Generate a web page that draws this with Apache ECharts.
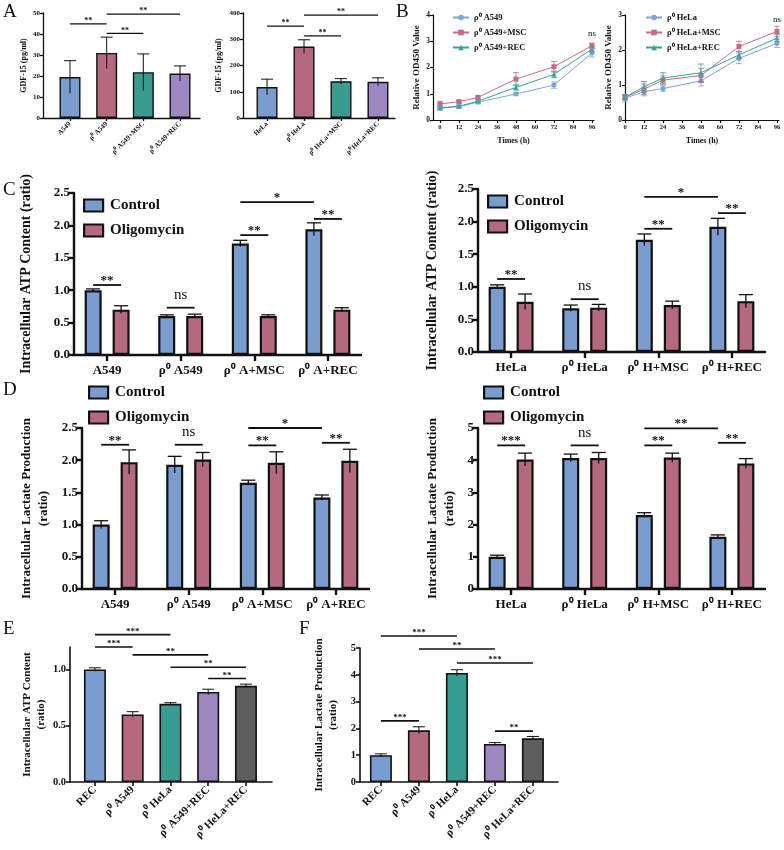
<!DOCTYPE html>
<html>
<head>
<meta charset="utf-8">
<script src="https://cdn.jsdelivr.net/npm/echarts@6/dist/echarts.min.js"></script>
<style>
  html, body { margin: 0; background: #fff; }
  #chart { width: 784px; height: 850px; }
</style>
</head>
<body>
<div id="chart"></div>
<script>
const SERIF = '"Liberation Serif", "Times New Roman", serif'
const INK = '#111'
const BLUE = '#7b9ccf'
const PINK = '#b5697e'
const TEAL = '#3a9b93'
const PURPLE = '#9c87c0'
const GREY = '#5e5e5e'
const LBLUE = '#7fa3d9'
const LPINK = '#c66b85'
const LTEAL = '#35a399'

// ---- A: GDF-15 ----
const aLeftNames = ['A549', 'ρ⁰ A549', 'ρ⁰ A549+MSC', 'ρ⁰ A549+REC']
const aLeftMean = [19.5, 31, 21.8, 21.2]
const aLeftSd = [7.8, 7.5, 8.7, 3.6]
const aLeftSig = [[0, 1, 44.8, '**'], [1, 2, 40.3, '**'], [1, 3, 49.5, '**']]

const aRightNames = ['HeLa', 'ρ⁰ HeLa', 'ρ⁰ HeLa+MSC', 'ρ⁰ HeLa+REC']
const aRightMean = [118, 272, 140, 138]
const aRightSd = [30, 26, 10, 15]
const aRightSig = [[0, 1, 350, '**'], [1, 2, 313, '**'], [1, 3, 392, '**']]

const fourColors = [BLUE, PINK, TEAL, PURPLE]

// ---- B: OD450 growth ----
const times = [0, 12, 24, 48, 72, 96]
const timeTicks = [0, 12, 24, 36, 48, 60, 72, 84, 96]
const bLeftNames = ['ρ⁰ A549', 'ρ⁰ A549+MSC', 'ρ⁰ A549+REC']
const bA549 = [0.45, 0.51, 0.68, 0.99, 1.33, 2.55]
const bA549Sd = [0.08, 0.05, 0.05, 0.05, 0.12, 0.15]
const bA549Msc = [0.61, 0.70, 0.86, 1.56, 2.03, 2.83]
const bA549MscSd = [0.1, 0.05, 0.05, 0.25, 0.2, 0.1]
const bA549Rec = [0.47, 0.52, 0.72, 1.24, 1.74, 2.70]
const bA549RecSd = [0.05, 0.05, 0.05, 0.1, 0.12, 0.1]

const bRightNames = ['ρ⁰ HeLa', 'ρ⁰ HeLa+MSC', 'ρ⁰ HeLa+REC']
const bHeLa = [0.62, 0.81, 0.90, 1.12, 1.76, 2.19]
const bHeLaSd = [0.1, 0.12, 0.08, 0.15, 0.15, 0.12]
const bHeLaMsc = [0.65, 0.88, 1.14, 1.27, 2.10, 2.53]
const bHeLaMscSd = [0.08, 0.15, 0.12, 0.2, 0.15, 0.15]
const bHeLaRec = [0.65, 0.95, 1.20, 1.35, 1.86, 2.34]
const bHeLaRecSd = [0.06, 0.15, 0.15, 0.25, 0.1, 0.1]

// ---- C / D: Control vs Oligomycin ----
const cdLegend = ['Control', 'Oligomycin']
const aGroups = ['A549', 'ρ⁰ A549', 'ρ⁰ A+MSC', 'ρ⁰ A+REC']
const hGroups = ['HeLa', 'ρ⁰ HeLa', 'ρ⁰ H+MSC', 'ρ⁰ H+REC']

const cLeftCtrl = [1.0, 0.6, 1.72, 1.94]
const cLeftCtrlSd = [0.02, 0.02, 0.05, 0.1]
const cLeftOligo = [0.7, 0.6, 0.6, 0.7]
const cLeftOligoSd = [0.06, 0.03, 0.02, 0.03]
const cLeftSig = [[[0, 0], [0, 1], 1.08, '**'], [[1, 0], [1, 1], 0.73, 'ns'], [[2, 0], [2, 1], 1.85, '**'], [[3, 0], [3, 1], 2.1, '**'], [[2, 0], [3, 0], 2.36, '*']]

const cRightCtrl = [1.0, 0.67, 1.72, 1.92]
const cRightCtrlSd = [0.03, 0.05, 0.09, 0.13]
const cRightOligo = [0.77, 0.68, 0.72, 0.78]
const cRightOligoSd = [0.12, 0.05, 0.06, 0.1]
const cRightSig = [[[0, 0], [0, 1], 1.12, '**'], [[1, 0], [1, 1], 0.81, 'ns'], [[2, 0], [2, 1], 1.89, '**'], [[3, 0], [3, 1], 2.13, '**'], [[2, 0], [3, 0], 2.38, '*']]

const dLeftCtrl = [1.0, 1.93, 1.65, 1.42]
const dLeftCtrlSd = [0.06, 0.13, 0.04, 0.04]
const dLeftOligo = [1.97, 2.01, 1.96, 1.99]
const dLeftOligoSd = [0.19, 0.11, 0.17, 0.18]
const dLeftSig = [[[0, 0], [0, 1], 2.24, '**'], [[1, 0], [1, 1], 2.24, 'ns'], [[2, 0], [2, 1], 2.23, '**'], [[3, 0], [3, 1], 2.27, '**'], [[2, 0], [3, 0], 2.5, '*']]

const dRightCtrl = [1.0, 4.07, 2.3, 1.62]
const dRightCtrlSd = [0.05, 0.12, 0.07, 0.06]
const dRightOligo = [4.02, 4.07, 4.08, 3.9]
const dRightOligoSd = [0.2, 0.17, 0.14, 0.15]
const dRightSig = [[[0, 0], [0, 1], 4.46, '***'], [[1, 0], [1, 1], 4.46, 'ns'], [[2, 0], [2, 1], 4.46, '**'], [[3, 0], [3, 1], 4.54, '**'], [[2, 0], [3, 0], 4.99, '**']]

// ---- E / F ----
const efNames = ['REC', 'ρ⁰ A549', 'ρ⁰ HeLa', 'ρ⁰ A549+REC', 'ρ⁰ HeLa+REC']
const efColors = [BLUE, PINK, TEAL, PURPLE, GREY]
const eMean = [1.0, 0.6, 0.695, 0.8, 0.855]
const eSd = [0.015, 0.025, 0.01, 0.025, 0.015]
const eSig = [[0, 2, 1.31, '***'], [0, 1, 1.2, '***'], [1, 3, 1.13, '**'], [2, 4, 1.02, '**'], [3, 4, 0.92, '**']]
const fMean = [1.0, 1.93, 4.07, 1.42, 1.63]
const fSd = [0.05, 0.13, 0.12, 0.05, 0.07]
const fSig = [[0, 2, 5.45, '***'], [1, 3, 4.96, '**'], [2, 4, 4.44, '***'], [0, 1, 2.28, '***'], [3, 4, 1.9, '**']]

const OFF = 0.19  // half distance between paired bars, in group units

const option = {
  animation: false,
  backgroundColor: '#fff',
  grid: [], xAxis: [], yAxis: [], series: [], legend: [], graphic: []
}

const font = (size, weight) => ({ fontFamily: SERIF, fontWeight: weight || 'bold', fontSize: size, color: INK })

// Add a grid with its own x and y axes, returns grid index
function addGrid(box, x, y) {
  const gi = option.grid.length
  option.grid.push(box)
  option.xAxis.push(Object.assign({ gridIndex: gi }, x))
  option.yAxis.push(Object.assign({ gridIndex: gi }, y))
  return gi
}

function groupAxis(names, o) {
  const idx = names.map((_, i) => i)
  return {
    type: 'value', min: o.min, max: o.max,
    splitLine: { show: false },
    axisLine: { onZero: false, lineStyle: { color: INK, width: o.lw } },
    axisTick: { show: true, customValues: idx, length: o.tick, lineStyle: { color: INK, width: o.lw } },
    axisLabel: Object.assign({ customValues: idx, formatter: v => names[Math.round(v)] || '', rotate: o.rotate || 0, margin: o.margin }, font(o.fs))
  }
}

function valueAxis(o) {
  return {
    type: 'value', min: o.min, max: o.max, interval: o.interval,
    name: o.name, nameLocation: 'middle', nameGap: o.nameGap, nameRotate: 90,
    nameTextStyle: Object.assign({ lineHeight: Math.round(o.nameSize * 1.3) }, font(o.nameSize)),
    splitLine: { show: false },
    axisLine: { show: true, onZero: false, lineStyle: { color: INK, width: o.lw } },
    axisTick: { show: true, length: o.tick, customValues: o.custom, lineStyle: { color: INK, width: o.lw } },
    axisLabel: Object.assign({ margin: o.margin, formatter: o.fmt, customValues: o.custom }, font(o.fs))
  }
}

function errorBars(gi, pts, o) {
  return {
    type: 'custom', xAxisIndex: gi, yAxisIndex: gi, z: 4, silent: true,
    data: pts, encode: { x: 0, y: [1, 2] },
    renderItem: (params, api) => {
      const x = api.value(0)
      const top = api.coord([x, api.value(2)])
      const bot = api.coord([x, api.value(1)])
      const style = { stroke: o.colors ? o.colors[params.dataIndex] : INK, lineWidth: o.width }
      const kids = [
        { type: 'line', shape: { x1: top[0], y1: top[1], x2: bot[0], y2: bot[1] }, style },
        { type: 'line', shape: { x1: top[0] - o.cap, y1: top[1], x2: top[0] + o.cap, y2: top[1] }, style }
      ]
      if (o.both) kids.push({ type: 'line', shape: { x1: bot[0] - o.cap, y1: bot[1], x2: bot[0] + o.cap, y2: bot[1] }, style })
      return { type: 'group', children: kids }
    }
  }
}

// rows: [x1, x2, y, label]
function sigLines(gi, rows, o) {
  return {
    type: 'custom', xAxisIndex: gi, yAxisIndex: gi, z: 6, silent: true,
    data: rows.map(r => [r[0], r[1], r[2]]), encode: { x: [0, 1], y: 2 },
    renderItem: (params, api) => {
      const a = api.coord([api.value(0), api.value(2)])
      const b = api.coord([api.value(1), api.value(2)])
      const label = rows[params.dataIndex][3]
      const star = label.indexOf('*') >= 0
      const kids = []
      if (a[0] !== b[0]) kids.push({ type: 'line', shape: { x1: a[0], y1: a[1], x2: b[0], y2: b[1] }, style: { stroke: INK, lineWidth: o.width } })
      kids.push({
        type: 'text', x: (a[0] + b[0]) / 2, y: star ? a[1] + o.size * 0.15 : a[1] - o.nsSize * 0.35,
        style: {
          text: label, fill: INK, align: 'center', verticalAlign: 'bottom',
          font: star ? `bold ${o.size}px ${SERIF}` : `${o.nsSize}px ${SERIF}`
        }
      })
      return { type: 'group', children: kids }
    }
  }
}

// ---------- Panel A ----------
function panelA(box, names, mean, sd, sig, y) {
  const gi = addGrid(box,
    groupAxis(names, { min: y.xMin, max: y.xMax, lw: 1.3, tick: 3, fs: 7, rotate: 45, margin: 5 }),
    valueAxis({ min: 0, max: y.max, interval: y.interval, name: 'GDF-15 (pg/ml)', nameGap: y.nameGap, nameSize: 8, lw: 1.3, tick: 3, fs: 7, margin: 3 }))
  option.series.push({
    type: 'bar', xAxisIndex: gi, yAxisIndex: gi, barWidth: 21,
    data: mean.map((v, i) => ({ value: [i, v], itemStyle: { color: fourColors[i] } })),
    itemStyle: { borderColor: INK, borderWidth: 1.4 }
  })
  option.series.push(errorBars(gi, mean.map((v, i) => [i, v - sd[i], v + sd[i]]), { cap: 6, width: 1 }))
  option.series.push(sigLines(gi, sig, { width: 1.3, size: 8, nsSize: 9 }))
}
panelA({ left: 43, top: 13, width: 157, height: 105 }, aLeftNames, aLeftMean, aLeftSd, aLeftSig,
  { xMin: -0.736, xMax: 3.545, max: 50, interval: 10, nameGap: 14 })
panelA({ left: 243, top: 13, width: 152, height: 105 }, aRightNames, aRightMean, aRightSd, aRightSig,
  { xMin: -0.65, xMax: 3.46, max: 400, interval: 100, nameGap: 19 })

// ---------- Panel B ----------
function panelB(box, xMin, yMax, names, lines, sds, nsY, legendLeft) {
  const colors = [LBLUE, LPINK, LTEAL]
  const symbols = ['circle', 'rect', 'triangle']
  const gi = addGrid(box,
    {
      type: 'value', min: xMin, max: 97.3,
      name: 'Times (h)', nameLocation: 'middle', nameGap: 17, nameTextStyle: font(8),
      splitLine: { show: false },
      axisLine: { onZero: false, lineStyle: { color: INK, width: 1.2 } },
      axisTick: { customValues: timeTicks, length: 3, lineStyle: { color: INK, width: 1.2 } },
      axisLabel: Object.assign({ customValues: timeTicks, margin: 4 }, font(6.5))
    },
    valueAxis({ min: 0, max: yMax, interval: 1, name: 'Relative OD450 Value', nameGap: 9, nameSize: 9, lw: 1.2, tick: 3, fs: 7.5, margin: 3 }))
  lines.forEach((vals, k) => {
    option.series.push({
      type: 'line', name: names[k], xAxisIndex: gi, yAxisIndex: gi, z: 3,
      data: times.map((t, i) => [t, vals[i]]),
      symbol: symbols[k], symbolSize: 5,
      lineStyle: { color: colors[k], width: 1 }, itemStyle: { color: colors[k] }
    })
    option.series.push(errorBars(gi, times.map((t, i) => [t, vals[i] - sds[k][i], vals[i] + sds[k][i]]),
      { cap: 3, width: 0.8, both: true, colors: times.map(() => colors[k]) }))
  })
  option.series.push(sigLines(gi, [[96, 96, nsY, 'ns']], { width: 1, size: 8, nsSize: 9 }))
  option.legend.push({
    data: names, orient: 'vertical', left: legendLeft, top: 8, itemWidth: 16, itemHeight: 7, itemGap: 6,
    textStyle: font(8.5), selectedMode: false
  })
}
panelB({ left: 433, top: 15, width: 161, height: 105 }, -4.4, 4, bLeftNames,
  [bA549, bA549Msc, bA549Rec], [bA549Sd, bA549MscSd, bA549RecSd], 3.0, 447)
panelB({ left: 625, top: 15, width: 154, height: 105 }, 0, 3, bRightNames,
  [bHeLa, bHeLaMsc, bHeLaRec], [bHeLaSd, bHeLaMscSd, bHeLaRecSd], 2.65, 640)

// ---------- Panels C / D ----------
function pairPanel(box, groups, ctrl, ctrlSd, oligo, oligoSd, sig, y, legendPos) {
  const gi = addGrid(box,
    groupAxis(groups, { min: -0.45, max: 3.45, lw: 2.4, tick: 6, fs: 13, margin: 9 }),
    valueAxis({ min: 0, max: y.max, interval: y.interval, name: y.name, nameGap: y.nameGap, nameSize: y.nameSize,
      lw: 2.4, tick: 5, fs: 13, margin: 4, fmt: y.fmt }))
  const gx = (g, s) => g + (s ? OFF : -OFF)
  ;[[ctrl, ctrlSd, BLUE, 0], [oligo, oligoSd, PINK, 1]].forEach(([vals, sd, color, s]) => {
    option.series.push({
      type: 'bar', name: cdLegend[s], xAxisIndex: gi, yAxisIndex: gi, barWidth: 17, barGap: '-100%',
      data: vals.map((v, i) => [gx(i, s), v]),
      itemStyle: { color, borderColor: INK, borderWidth: 2.2 }
    })
    option.series.push(errorBars(gi, vals.map((v, i) => [gx(i, s), v - sd[i], v + sd[i]]), { cap: 7, width: 1.3 }))
  })
  option.series.push(sigLines(gi, sig.map(r => [gx(r[0][0], r[0][1]), gx(r[1][0], r[1][1]), r[2], r[3]]),
    { width: 1.8, size: 13, nsSize: 15 }))
  option.legend.push({
    data: cdLegend, orient: 'vertical', left: legendPos[0], top: legendPos[1], icon: 'rect',
    itemWidth: 19, itemHeight: 12, itemGap: 10, selectedMode: false,
    itemStyle: { borderColor: INK, borderWidth: 2.2 },
    textStyle: Object.assign({ padding: [0, 0, 0, 2] }, font(15))
  })
}
const fmt1 = v => v.toFixed(1)
pairPanel({ left: 74, top: 193, width: 287, height: 162 }, aGroups, cLeftCtrl, cLeftCtrlSd, cLeftOligo, cLeftOligoSd, cLeftSig,
  { max: 2.5, interval: 0.5, name: 'Intracellular ATP Content (ratio)', nameGap: 39, nameSize: 14, fmt: fmt1 }, [78, 193])
pairPanel({ left: 478, top: 189, width: 287, height: 163 }, hGroups, cRightCtrl, cRightCtrlSd, cRightOligo, cRightOligoSd, cRightSig,
  { max: 2.5, interval: 0.5, name: 'Intracellular ATP Content (ratio)', nameGap: 37, nameSize: 14, fmt: fmt1 }, [482, 189])
pairPanel({ left: 82, top: 428, width: 287, height: 161 }, aGroups, dLeftCtrl, dLeftCtrlSd, dLeftOligo, dLeftOligoSd, dLeftSig,
  { max: 2.5, interval: 0.5, name: 'Intracellular Lactate Production\n(ratio)', nameGap: 30, nameSize: 13, fmt: fmt1 }, [83, 380])
pairPanel({ left: 478, top: 428, width: 287, height: 161 }, hGroups, dRightCtrl, dRightCtrlSd, dRightOligo, dRightOligoSd, dRightSig,
  { max: 5, interval: 1, name: 'Intracellular Lactate Production\n(ratio)', nameGap: 20, nameSize: 13 }, [478, 380])

// ---------- Panels E / F ----------
function fivePanel(box, mean, sd, sig, y) {
  const gi = addGrid(box,
    groupAxis(efNames, { min: y.xMin, max: y.xMax, lw: 1.6, tick: 4, fs: 11, rotate: 45, margin: 6 }),
    valueAxis({ min: 0, max: y.max, interval: y.interval, custom: y.custom, name: y.name, nameGap: y.nameGap, nameSize: 11,
      lw: 1.6, tick: 4, fs: 10.5, margin: 4, fmt: y.fmt }))
  option.series.push({
    type: 'bar', xAxisIndex: gi, yAxisIndex: gi, barWidth: 22,
    data: mean.map((v, i) => ({ value: [i, v], itemStyle: { color: efColors[i] } })),
    itemStyle: { borderColor: INK, borderWidth: 1.6 }
  })
  option.series.push(errorBars(gi, mean.map((v, i) => [i, v - sd[i], v + sd[i]]), { cap: 6, width: 1 }))
  option.series.push(sigLines(gi, sig, { width: 1.6, size: 9, nsSize: 10 }))
}
fivePanel({ left: 70, top: 647, width: 202, height: 135 }, eMean, eSd, eSig,
  { xMin: -0.66, xMax: 4.69, max: 1.2, custom: [0, 0.5, 1], name: 'Intracellular ATP Content\n(ratio)', nameGap: 22, fmt: fmt1 })
fivePanel({ left: 360, top: 648, width: 198, height: 134 }, fMean, fSd, fSig,
  { xMin: -0.55, xMax: 4.66, max: 5, interval: 1, name: 'Intracellular Lactate Production\n(ratio)', nameGap: 20 })

// ---------- panel letters ----------
const letters = [['A', 3, 3], ['B', 396, 3], ['C', 3, 181], ['D', 3, 381], ['E', 3, 620], ['F', 299, 620]]
letters.forEach(([t, x, y]) => {
  option.graphic.push({ type: 'text', left: x, top: y, style: { text: t, font: `19px ${SERIF}`, fill: INK } })
})

const chart = echarts.init(document.getElementById('chart'))
chart.setOption(option)
</script>
</body>
</html>
